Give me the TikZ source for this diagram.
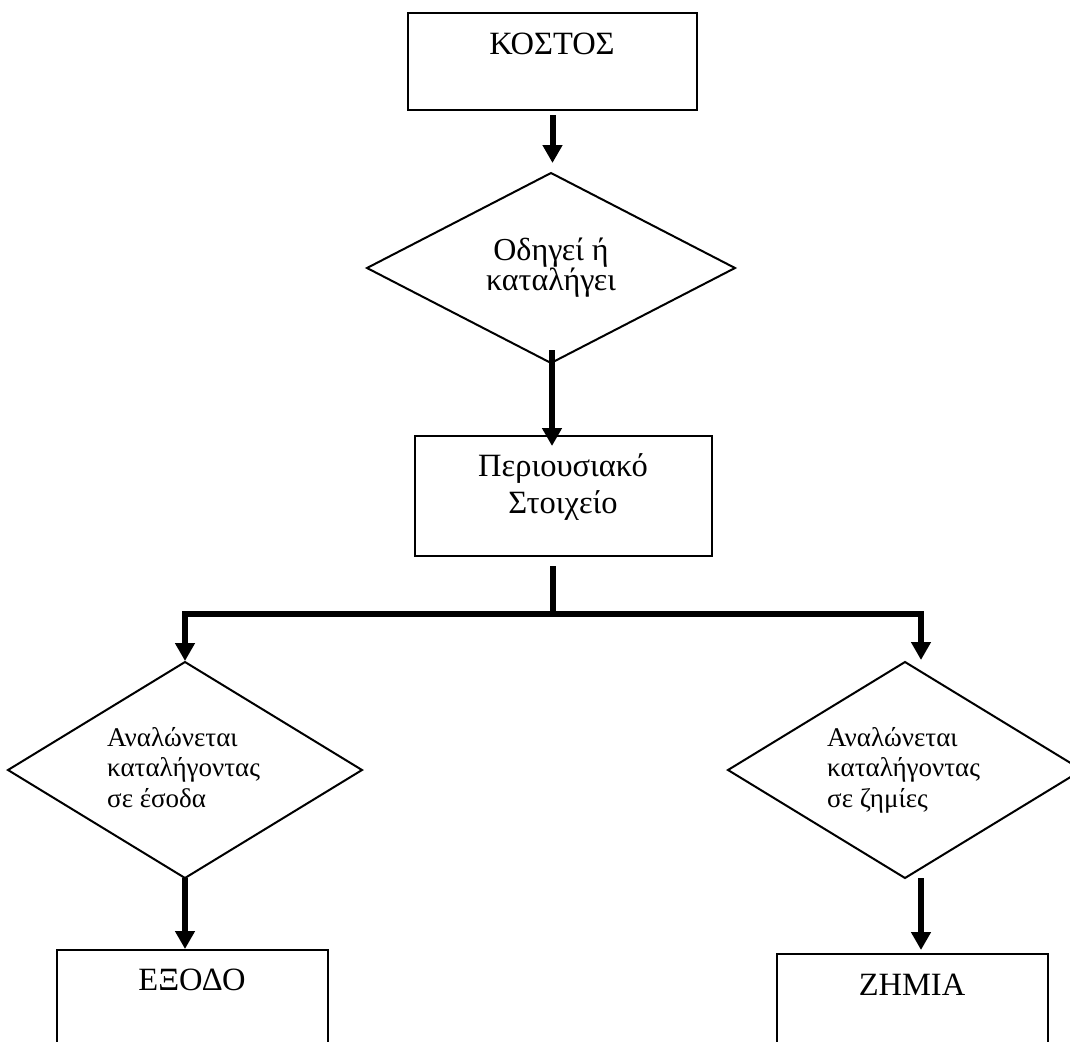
\documentclass[tikz,border=0pt]{standalone}
\usepackage{fontspec}
\setmainfont{Liberation Serif}
\usetikzlibrary{shapes.geometric,arrows.meta}
\begin{document}
\begin{tikzpicture}[x=1pt,y=-1pt,
  box/.style={draw,line width=2pt,rectangle,inner sep=0pt,outer sep=0pt},
  dia/.style={draw,line width=2pt,diamond,inner sep=0pt,outer sep=0pt},
  bigtxt/.style={font=\fontsize{32.5pt}{37pt}\selectfont,inner sep=0pt,align=center,anchor=base},
  midtxt/.style={font=\fontsize{32pt}{30pt}\selectfont,inner sep=0pt,align=center,anchor=base},
  smalltxt/.style={font=\fontsize{27pt}{30.5pt}\selectfont,inner sep=0pt,align=left,anchor=base west},
  arr/.style={line width=6pt,-{Triangle[width=19pt,length=18pt]}},
  bar/.style={line width=6pt},
]
\clip (0,0) rectangle (1070,1041);
\fill[white] (0,0) rectangle (1070,1041);

% shapes
\node[box,minimum width=289pt,minimum height=97pt] (kostos) at (552.5,61.5) {};
\node[dia,minimum width=368pt,minimum height=190pt] (odigei) at (551,268) {};
\node[box,minimum width=297pt,minimum height=120pt] (perio) at (563.5,496) {};
\node[dia,minimum width=354pt,minimum height=216pt] (andL) at (185,770) {};
\node[dia,minimum width=354pt,minimum height=216pt] (andR) at (905,770) {};
\node[box,minimum width=271pt,minimum height=160pt] (exodo) at (192.5,1030) {};
\node[box,minimum width=271pt,minimum height=160pt] (zhmia) at (912.5,1034) {};

% texts (base anchor = last line's baseline)
\node[bigtxt] (kostosT) at (552,55) {ΚΟΣΤΟΣ};
\node[midtxt] (odigeiT) at (551,290) {Οδηγεί ή\\καταλήγει};
\node[bigtxt] (perioT) at (563,513) {Περιουσιακό\\Στοιχείο};
\node[smalltxt] (andLT) at (107,807) {Αναλώνεται\\καταλήγοντας\\σε έσοδα};
\node[smalltxt] (andRT) at (827,807) {Αναλώνεται\\καταλήγοντας\\σε ζημίες};
\node[bigtxt] (exodoT) at (192,990) {ΕΞΟΔΟ};
\node[bigtxt] (zhmiaT) at (912,995) {ΖΗΜΙΑ};

% connectors
\coordinate (jn) at (553,614);
\draw[arr] ([yshift=-5pt]kostos.south) -- ([yshift=10pt]kostos.south |- odigei.north);
\draw[arr] ([xshift=1pt,yshift=13pt]odigei.south) -- ([xshift=1pt,yshift=-10pt]odigei.south |- perio.north);
\draw[bar] ([yshift=-10pt]jn |- perio.south) -- (jn);
\draw[arr,line join=miter] (jn) -| ([yshift=1pt]andL.north);
\draw[arr,line join=miter] (jn) -| ([xshift=16pt,yshift=2pt]andR.north);
\draw[arr] (andL.south) -- ([yshift=1pt]andL.south |- exodo.north);
\draw[arr] ([xshift=16pt]andR.south) -- ([xshift=16pt,yshift=4pt]andR.south |- zhmia.north);
\end{tikzpicture}
\end{document}
